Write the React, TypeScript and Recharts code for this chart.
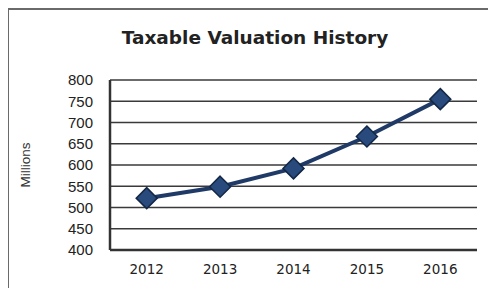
import { LineChart, Line, XAxis, YAxis, CartesianGrid } from 'recharts';

const years = ['2012', '2013', '2014', '2015', '2016'];
const valuations = [522, 549, 592, 667, 755];
const yTicks = [400, 450, 500, 550, 600, 650, 700, 750, 800];

const data = years.map((year, i) => ({ year, value: valuations[i] }));

const LINE_COLOR = '#1f3a66';

interface DotProps {
  cx?: number;
  cy?: number;
  index?: number;
}

const Diamond = ({ cx, cy, index }: DotProps) => {
  if (cx == null || cy == null) return null;
  const r = 10.5;
  return (
    <polygon
      key={`dot-${index}`}
      points={`${cx},${cy - r} ${cx + r},${cy} ${cx},${cy + r} ${cx - r},${cy}`}
      fill="#284a7c"
      stroke="#132746"
      strokeWidth={1.5}
    />
  );
};

export default function App() {
  return (
    <div style={{ position: 'relative', width: 496, height: 288, marginLeft: -8, marginTop: -8, background: '#fff' }}>
      <div
        style={{
          position: 'absolute',
          top: 27,
          left: 0,
          width: 510,
          textAlign: 'center',
          fontFamily: 'DejaVu Sans, Verdana, sans-serif',
          fontWeight: 'bold',
          fontSize: 18.5,
          color: '#222'
        }}
      >
        Taxable Valuation History
      </div>
      <div
        style={{
          position: 'absolute',
          left: 25,
          top: 165,
          transform: 'translate(-50%, -50%) rotate(-90deg)',
          fontFamily: 'Liberation Sans, Arial, sans-serif',
          fontSize: 13.5,
          color: '#333'
        }}
      >
        Millions
      </div>
      <div style={{ position: 'absolute', left: 0, top: 0 }}>
        <LineChart width={496} height={288} data={data} margin={{ top: 80, right: 19, bottom: 8, left: 60 }}>
          <CartesianGrid yAxisId="left" vertical={false} stroke="#3a3a3a" strokeWidth={1.3} />
          <XAxis
            dataKey="year"
            padding={{ left: 36.7, right: 36.7 }}
            height={30}
            tickLine={false}
            tickMargin={8}
            axisLine={{ stroke: '#333', strokeWidth: 2.5 }}
            tick={{ fill: '#222', fontSize: 13.5, fontFamily: 'DejaVu Sans, Verdana, sans-serif' }}
          />
          <YAxis
            yAxisId="left"
            domain={[400, 800]}
            ticks={yTicks}
            width={50}
            tickLine={false}
            interval={0}
            axisLine={{ stroke: '#333', strokeWidth: 2.5 }}
            tick={{ fill: '#222', fontSize: 15, fontFamily: 'Liberation Sans, Arial, sans-serif', dx: -9 }}
          />
          <YAxis
            yAxisId="right"
            orientation="right"
            domain={[400, 800]}
            width={0}
            tick={false}
            tickLine={false}
            axisLine={{ stroke: '#333', strokeWidth: 2.5 }}
          />
          <Line
            yAxisId="left"
            type="linear"
            dataKey="value"
            stroke={LINE_COLOR}
            strokeWidth={4}
            dot={(props: DotProps) => <Diamond {...props} />}
            activeDot={false}
            isAnimationActive={false}
          />
        </LineChart>
      </div>
      {/* outer frame of the scanned page, cut off at the right and bottom */}
      <div
        style={{
          position: 'absolute',
          left: 7,
          top: 8,
          width: 2,
          height: 280,
          background: '#6a6a6a',
          pointerEvents: 'none'
        }}
      />
      <div style={{ position: 'absolute', left: 7, top: 8, width: 489, height: 2, background: '#6a6a6a', pointerEvents: 'none' }} />
    </div>
  );
}
